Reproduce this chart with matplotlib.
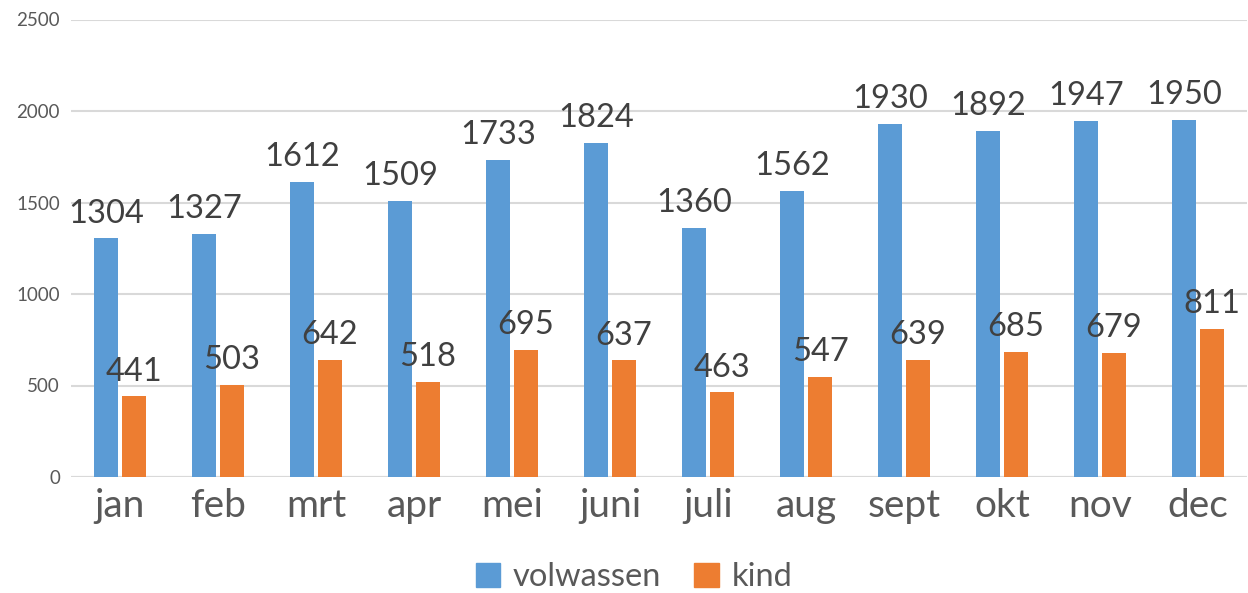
import numpy as np
import matplotlib.pyplot as plt
from matplotlib.patches import Patch

months = ["jan", "feb", "mrt", "apr", "mei", "juni", "juli", "aug", "sept", "okt", "nov", "dec"]
volwassen = [1304, 1327, 1612, 1509, 1733, 1824, 1360, 1562, 1930, 1892, 1947, 1950]
kind = [441, 503, 642, 518, 695, 637, 463, 547, 639, 685, 679, 811]

BLUE = "#5B9BD5"
ORANGE = "#ED7D31"
GRID = "#D9D9D9"
TICK = "#595959"
LABEL = "#404040"

plt.rcParams["font.family"] = ["Lato", "DejaVu Sans"]

fig = plt.figure(figsize=(12.48, 5.93), dpi=100)
ax = fig.add_axes([71 / 1248, 1 - 477 / 593, 1176 / 1248, (477 - 19.5) / 593])

x = np.arange(len(months))
width = 0.235
off = 0.143
b1 = ax.bar(x - off, volwassen, width, color=BLUE, zorder=3)
b2 = ax.bar(x + off, kind, width, color=ORANGE, zorder=3)

# data labels above each bar (Excel style, may overlap neighbours)
for bars, vals in ((b1, volwassen), (b2, kind)):
    for bar, v in zip(bars, vals):
        ax.annotate(str(v), (bar.get_x() + bar.get_width() / 2, v),
                    xytext=(0, 7), textcoords="offset points",
                    ha="center", va="bottom", fontsize=23.5, color=LABEL, zorder=4)

ax.set_xlim(-0.5, len(months) - 0.5)
ax.set_ylim(0, 2500)
ax.set_yticks(range(0, 2501, 500))
ax.set_xticks(x)
ax.set_xticklabels(months)
ax.yaxis.grid(True, color=GRID, linewidth=1.5, zorder=0)
for s in ax.spines.values():
    s.set_visible(False)
ax.axhline(0, color=GRID, linewidth=1.5, zorder=2)
ax.tick_params(axis="y", length=0, labelsize=13.5, labelcolor=TICK, pad=8)
ax.tick_params(axis="x", length=0, labelsize=28, labelcolor=TICK, pad=8)

handles = [Patch(color=BLUE, label="volwassen"), Patch(color=ORANGE, label="kind")]
fig.legend(handles=handles, loc="center", bbox_to_anchor=(0.508, 1 - 577 / 593),
           ncol=2, frameon=False, fontsize=23.5, labelcolor=TICK,
           handlelength=0.75, handleheight=0.75, handletextpad=0.4, columnspacing=1.0)

fig.savefig("out.png", dpi=100)
